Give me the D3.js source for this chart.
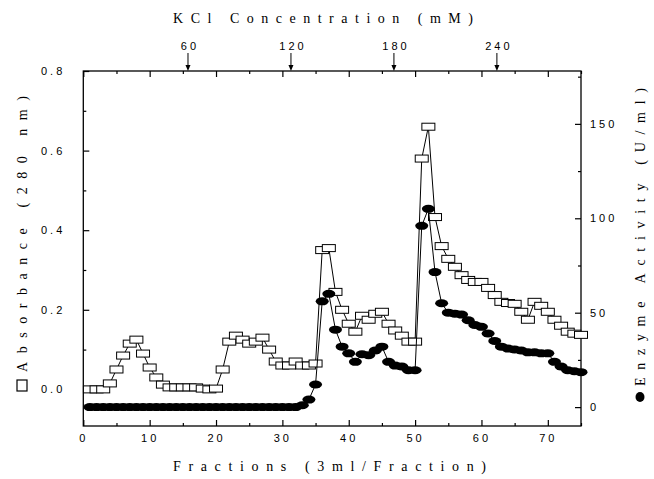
<!DOCTYPE html>
<html>
<head>
<meta charset="utf-8">
<script src="https://cdn.jsdelivr.net/npm/d3@7"></script>
<style>
    body { margin: 0; background: #fff; }
    text { font-family: "Liberation Sans", Arial, sans-serif; fill: #000; }
    .title { font-family: "Liberation Serif", "Times New Roman", serif; font-size: 14px; }
    .tick text { font-size: 11px; letter-spacing: 3px; }
</style>
</head>
<body>
<svg width="654" height="479"></svg>
<script>
// fraction number (3 ml each)
var fractions = [1, 2, 3, 4, 5, 6, 7, 8, 9, 10, 11, 12, 13, 14, 15, 16, 17, 18, 19, 20,
    21, 22, 23, 24, 25, 26, 27, 28, 29, 30, 31, 32, 33, 34, 35, 36, 37, 38, 39, 40,
    41, 42, 43, 44, 45, 46, 47, 48, 49, 50, 51, 52, 53, 54, 55, 56, 57, 58, 59, 60,
    61, 62, 63, 64, 65, 66, 67, 68, 69, 70, 71, 72, 73, 74, 75];

// absorbance at 280 nm (left axis, open squares)
var absorbance = [0.0, 0.0, 0.0, 0.015, 0.05, 0.085, 0.115, 0.125, 0.09, 0.055,
    0.03, 0.012, 0.005, 0.005, 0.005, 0.005, 0.005, 0.002, 0.0, 0.002,
    0.05, 0.12, 0.135, 0.125, 0.115, 0.12, 0.13, 0.1, 0.07, 0.06,
    0.06, 0.07, 0.06, 0.06, 0.065, 0.35, 0.355, 0.245, 0.2, 0.165,
    0.145, 0.185, 0.175, 0.19, 0.195, 0.165, 0.148, 0.135, 0.12, 0.12,
    0.58, 0.66, 0.433, 0.36, 0.328, 0.308, 0.287, 0.275, 0.27, 0.27,
    0.255, 0.237, 0.22, 0.217, 0.215, 0.195, 0.175, 0.22, 0.21, 0.195,
    0.175, 0.16, 0.145, 0.14, 0.137];

// enzyme activity U/ml (right axis, filled circles)
var activity = [0, 0, 0, 0, 0, 0, 0, 0, 0, 0,
    0, 0, 0, 0, 0, 0, 0, 0, 0, 0,
    0, 0, 0, 0, 0, 0, 0, 0, 0, 0,
    0, 0, 1, 4, 12, 56, 60, 41, 32, 28.5,
    24, 28, 27.5, 30, 32, 24, 22, 21.5, 19.5, 19.5,
    96, 105, 71.5, 55, 50, 49.5, 49, 46, 43.5, 42.5,
    39, 35, 32, 31, 30.5, 30, 29, 29, 28.5, 28.5,
    24, 21.5, 19.5, 19, 18.5];

var fracTicks = [0, 10, 20, 30, 40, 50, 60, 70];
var fracMinor = [5, 15, 25, 35, 45, 55, 65, 75];
var absTicks = [0.0, 0.2, 0.4, 0.6, 0.8];
var absMinor = [0.1, 0.3, 0.5, 0.7];
var actTicks = [0, 50, 100, 150];
var actMinor = [25, 75, 125, 175];
var kclTicks = [60, 120, 180, 240];

var svg = d3.select('svg'),
    plot = { left: 83.3, right: 581, top: 71, bottom: 426 };

var x = d3.scaleLinear().domain([0, 75]).range([plot.left, plot.right]);
var yL = d3.scaleLinear().domain([-0.092, 0.8]).range([plot.bottom, plot.top]);
var yR = d3.scaleLinear().domain([-10, 178]).range([plot.bottom, plot.top]);
var xK = d3.scaleLinear().domain([-1, 289]).range([plot.left, plot.right]);

// bottom axis
svg.append("g")
    .attr("transform", `translate(0,${plot.bottom})`)
    .call(d3.axisBottom(x).tickValues(fracTicks).tickSizeInner(-6).tickSizeOuter(0).tickPadding(8));
svg.append("g")
    .attr("transform", `translate(0,${plot.bottom})`)
    .call(d3.axisBottom(x).tickValues(fracMinor).tickSizeInner(-3).tickSizeOuter(0).tickFormat(""));

// top axis (mirror ticks, no labels)
svg.append("g")
    .attr("transform", `translate(0,${plot.top})`)
    .call(d3.axisTop(x).tickValues(fracTicks).tickSizeInner(-6).tickSizeOuter(0).tickFormat(""));
svg.append("g")
    .attr("transform", `translate(0,${plot.top})`)
    .call(d3.axisTop(x).tickValues(fracMinor).tickSizeInner(-3).tickSizeOuter(0).tickFormat(""));

// left axis
svg.append("g")
    .attr("transform", `translate(${plot.left},0)`)
    .call(d3.axisLeft(yL).tickValues(absTicks).tickSizeInner(-6).tickSizeOuter(0).tickPadding(18).tickFormat(d3.format(".1f")));
svg.append("g")
    .attr("transform", `translate(${plot.left},0)`)
    .call(d3.axisLeft(yL).tickValues(absMinor).tickSizeInner(-3).tickSizeOuter(0).tickFormat(""));

// right axis
svg.append("g")
    .attr("transform", `translate(${plot.right},0)`)
    .call(d3.axisRight(yR).tickValues(actTicks).tickSizeInner(-6).tickSizeOuter(0).tickPadding(9));
svg.append("g")
    .attr("transform", `translate(${plot.right},0)`)
    .call(d3.axisRight(yR).tickValues(actMinor).tickSizeInner(-3).tickSizeOuter(0).tickFormat(""));

svg.selectAll(".domain").remove();
svg.selectAll(".tick line").attr("stroke", "#000").attr("stroke-width", 1.2);

// frame
svg.append("rect")
    .attr("x", plot.left).attr("y", plot.top)
    .attr("width", plot.right - plot.left).attr("height", plot.bottom - plot.top)
    .attr("fill", "none").attr("stroke", "#000").attr("stroke-width", 1.3);

// KCl arrows on top
var kcl = svg.append("g").selectAll("g").data(kclTicks).enter().append("g")
    .attr("transform", d => `translate(${xK(d)},0)`);
kcl.append("line").attr("y1", 53).attr("y2", plot.top - 3).attr("stroke", "#000").attr("stroke-width", 1);
kcl.append("path").attr("d", `M-2.5,${plot.top - 6}L2.5,${plot.top - 6}L0,${plot.top}Z`).attr("fill", "#000");
kcl.append("text").attr("y", 50).attr("x", 2).attr("text-anchor", "middle")
    .style("font-size", "11px").style("letter-spacing", "3px").text(d => d);

var data = fractions.map((f, i) => ({ f: f, a: absorbance[i], e: activity[i] }));

// absorbance line + squares
svg.append("path").datum(data)
    .attr("fill", "none").attr("stroke", "#000").attr("stroke-width", 1)
    .attr("d", d3.line().x(d => x(d.f)).y(d => yL(d.a)));
svg.append("g").selectAll("rect").data(data).enter().append("rect")
    .attr("x", d => x(d.f) - 6.5).attr("y", d => yL(d.a) - 3.5)
    .attr("width", 13).attr("height", 7)
    .attr("fill", "#fff").attr("stroke", "#000").attr("stroke-width", 1);

// activity line + circles
svg.append("path").datum(data)
    .attr("fill", "none").attr("stroke", "#000").attr("stroke-width", 1)
    .attr("d", d3.line().x(d => x(d.f)).y(d => yR(d.e)));
svg.append("g").selectAll("ellipse").data(data).enter().append("ellipse")
    .attr("cx", d => x(d.f)).attr("cy", d => yR(d.e))
    .attr("rx", 6.5).attr("ry", 4)
    .attr("fill", "#000");

// titles
svg.append("text").attr("class", "title")
    .attr("x", 173).attr("y", 23)
    .attr("textLength", 300).attr("lengthAdjust", "spacing")
    .text("KCl Concentration (mM)");

svg.append("text").attr("class", "title")
    .attr("x", 173).attr("y", 471)
    .attr("textLength", 313).attr("lengthAdjust", "spacing")
    .text("Fractions (3ml/Fraction)");

// left title with square legend symbol
svg.append("rect")
    .attr("x", 17).attr("y", 380).attr("width", 10).attr("height", 11)
    .attr("fill", "#fff").attr("stroke", "#000").attr("stroke-width", 1.2);
svg.append("text").attr("class", "title")
    .attr("transform", "translate(27,372) rotate(-90)")
    .attr("textLength", 276).attr("lengthAdjust", "spacing")
    .text("Absorbance (280 nm)");

// right title with circle legend symbol
svg.append("ellipse")
    .attr("cx", 640).attr("cy", 397).attr("rx", 4.5).attr("ry", 5)
    .attr("fill", "#000");
svg.append("text").attr("class", "title")
    .attr("transform", "translate(645,386) rotate(-90)")
    .attr("textLength", 298).attr("lengthAdjust", "spacing")
    .text("Enzyme Activity (U/ml)");
</script>
</body>
</html>
